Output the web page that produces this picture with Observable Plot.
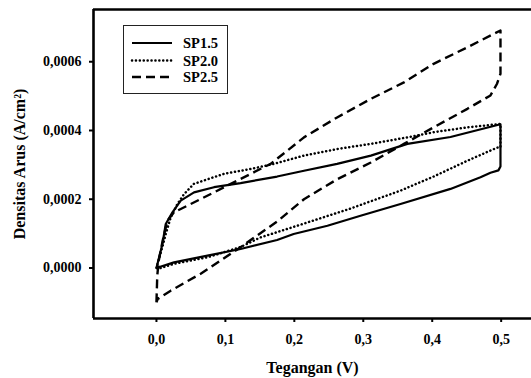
<!DOCTYPE html>
<html>
<head>
<meta charset="utf-8">
<script src="https://cdn.jsdelivr.net/npm/d3@7"></script>
<script src="https://cdn.jsdelivr.net/npm/@observablehq/plot@0.6"></script>
<style>
  html, body { margin: 0; padding: 0; background: #fff; }
  #chart { position: relative; width: 531px; height: 378px; }
</style>
</head>
<body>
<div id="chart"></div>
<script>
// Series: voltage (V) and current density (A/cm^2), traced around each loop
const seriesNames = ["SP1.5", "SP2.0", "SP2.5"];

const sp15V = [0, 0.0087, 0.0135, 0.0232, 0.0352, 0.0545, 0.0835, 0.122, 0.175, 0.214, 0.262, 0.311, 0.364, 0.4265, 0.499, 0.499, 0.499, 0.496, 0.4845, 0.47, 0.4265, 0.354, 0.296, 0.248, 0.199, 0.175, 0.122, 0.074, 0.0255, 0];
const sp15J = [0, 0.000070, 0.000128, 0.000162, 0.000196, 0.000220, 0.000235, 0.000247, 0.000266, 0.000283, 0.000303, 0.000327, 0.000361, 0.000381, 0.000418, 0.000341, 0.000295, 0.000284, 0.000277, 0.000264, 0.000230, 0.000186, 0.000152, 0.000123, 0.000099, 0.0000815, 0.0000553, 0.0000358, 0.0000163, 0];

const sp20V = [0, 0.0091, 0.0135, 0.0207, 0.0304, 0.04, 0.0545, 0.098, 0.1367, 0.1704, 0.214, 0.262, 0.311, 0.364, 0.402, 0.451, 0.499, 0.499, 0.494, 0.451, 0.402, 0.354, 0.2816, 0.209, 0.151, 0.122, 0.074, 0.0255, 0.003, 0];
const sp20J = [0, 0.000065, 0.000099, 0.000147, 0.000186, 0.000215, 0.000245, 0.000274, 0.000288, 0.000303, 0.000327, 0.000346, 0.000361, 0.000380, 0.000395, 0.000409, 0.000419, 0.000351, 0.000350, 0.000312, 0.000266, 0.000225, 0.000173, 0.000126, 0.000089, 0.000061, 0.000031, 0.000012, -0.000002, 0];

const sp25V = [0, 0.0012, 0.0033, 0.0091, 0.016, 0.0255, 0.0497, 0.0835, 0.122, 0.1657, 0.214, 0.262, 0.311, 0.359, 0.402, 0.451, 0.499, 0.499, 0.494, 0.4845, 0.451, 0.402, 0.359, 0.311, 0.262, 0.214, 0.175, 0.122, 0.0642, 0.0207, 0.0019, 0];
const sp25J = [-0.0001, -0.000022, 0.000021, 0.00008, 0.000138, 0.000162, 0.000186, 0.00022, 0.000259, 0.000303, 0.00038, 0.000438, 0.000492, 0.00054, 0.000594, 0.000642, 0.000691, 0.000565, 0.000536, 0.000502, 0.000463, 0.000409, 0.000361, 0.000307, 0.000258, 0.000200, 0.000135, 0.0000606, -0.0000166, -0.000066, -0.00009, -0.0001];

const xTicks = [0, 0.1, 0.2, 0.3, 0.4, 0.5];
const yTicks = [0, 0.0002, 0.0004, 0.0006];
const xLabel = "Tegangan (V)";
const yLabel = "Densitas Arus (A/cm²)";

const xDomain = [-0.0913, 0.544];
const yDomain = [-0.000147, 0.000752];

const toRows = (name, V, J) => V.map((v, i) => ({series: name, v, j: J[i], i}));
const rows15 = toRows("SP1.5", sp15V, sp15J);
const rows20 = toRows("SP2.0", sp20V, sp20J);
const rows25 = toRows("SP2.5", sp25V, sp25J);

const font = "'Liberation Serif', 'Times New Roman', serif";
const fmtY = d => d.toFixed(4).replace(".", ",");
const fmtX = d => d.toFixed(1).replace(".", ",");

const styles = {
  "SP1.5": {strokeWidth: 2.2, strokeDasharray: null, strokeLinecap: "butt"},
  "SP2.0": {strokeWidth: 2.5, strokeDasharray: "0.1 3.8", strokeLinecap: "round"},
  "SP2.5": {strokeWidth: 2.4, strokeDasharray: "9 5", strokeLinecap: "butt"}
};

const chart = Plot.plot({
  width: 531,
  height: 378,
  marginLeft: 93,
  marginRight: 0,
  marginTop: 9,
  marginBottom: 60,
  style: {fontFamily: font, fontSize: "14px", fontWeight: "bold", color: "#000", background: "#fff"},
  x: {domain: xDomain},
  y: {domain: yDomain},
  marks: [
    Plot.ruleY([yDomain[1]], {stroke: "#000", strokeWidth: 2.6}),
    Plot.ruleY([yDomain[0]], {stroke: "#000", strokeWidth: 2.6}),
    Plot.ruleX([xDomain[0]], {stroke: "#000", strokeWidth: 2.6}),
    Plot.axisX({ticks: xTicks, tickFormat: fmtX, tickSize: 4, tickPadding: 12, strokeWidth: 2, fontSize: 14,
      label: xLabel, labelAnchor: "center", labelArrow: "none", labelOffset: 54}),
    Plot.axisY({ticks: yTicks, tickFormat: fmtY, tickSize: 4, tickPadding: 8, strokeWidth: 2, fontSize: 14,
      label: yLabel, labelAnchor: "center", labelArrow: "none", labelOffset: 80}),
    Plot.line(rows15, {x: "v", y: "j", stroke: "#000", ...styles["SP1.5"], strokeLinejoin: "round"}),
    Plot.line(rows20, {x: "v", y: "j", stroke: "#000", ...styles["SP2.0"], strokeLinejoin: "round"}),
    Plot.line(rows25, {x: "v", y: "j", stroke: "#000", ...styles["SP2.5"], strokeLinejoin: "round"})
  ]
});

// enlarge axis titles
d3.select(chart).selectAll("[aria-label='x-axis label'] text, [aria-label='y-axis label'] text")
  .style("font-size", "16px");

// Legend box drawn on top of the plot
const svg = d3.select(chart);
const lg = svg.append("g").attr("class", "legend").attr("text-anchor", "start");
lg.append("rect").attr("x", 123.5).attr("y", 25.5).attr("width", 104).attr("height", 68)
  .attr("fill", "#fff").attr("stroke", "#222").attr("stroke-width", 1);
const legendY = [43, 60.5, 77];
seriesNames.forEach((name, k) => {
  const st = styles[name];
  lg.append("line").attr("x1", 132).attr("x2", 172).attr("y1", legendY[k]).attr("y2", legendY[k])
    .attr("stroke", "#000").attr("stroke-width", st.strokeWidth)
    .attr("stroke-dasharray", st.strokeDasharray).attr("stroke-linecap", st.strokeLinecap);
  lg.append("text").attr("x", 183).attr("y", legendY[k]).attr("dy", "0.35em")
    .attr("text-anchor", "start")
    .attr("font-family", font).attr("font-weight", "bold").attr("font-size", "14.5px").text(name);
});

document.getElementById("chart").appendChild(chart);
</script>
</body>
</html>
